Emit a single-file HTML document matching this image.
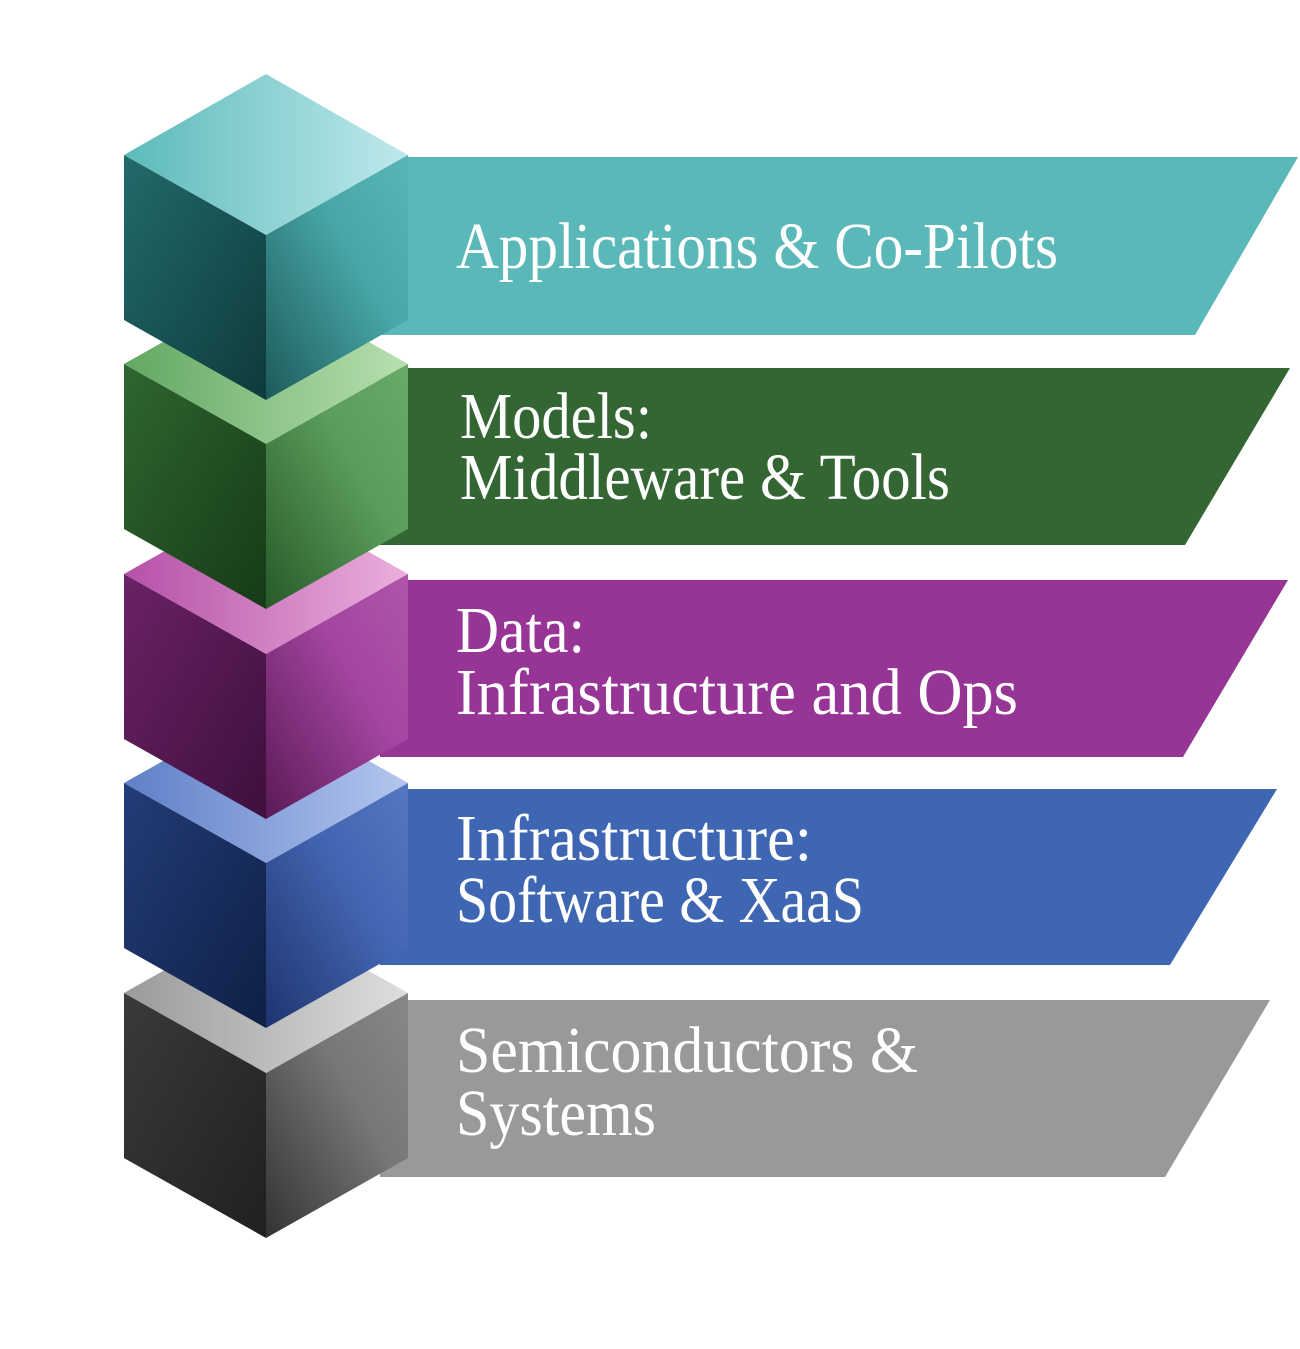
<!DOCTYPE html>
<html><head><meta charset="utf-8"><style>
html,body{margin:0;padding:0;background:#fff;}
svg{display:block}
text{font-family:"Liberation Serif",serif;fill:#fff;font-size:66px;}
</style></head><body>
<svg width="1300" height="1349" viewBox="0 0 1300 1349" xmlns="http://www.w3.org/2000/svg">
<polygon points="380,1000 1270,1000 1165,1177 380,1177" fill="#999999"/>
<polygon points="380,789 1277,789 1170,965 380,965" fill="#3f66b2"/>
<polygon points="380,580 1288,580 1183,757 380,757" fill="#963596"/>
<polygon points="380,368 1290,368 1185,545 380,545" fill="#336633"/>
<polygon points="380,157 1298,157 1195,335 380,335" fill="#5bb8b8"/>

<g>
<linearGradient id="g5t" x1="0" y1="0" x2="1" y2="0"><stop offset="0" stop-color="#9a9a9a"/><stop offset="1" stop-color="#dedede"/></linearGradient>
<linearGradient id="g5l" x1="0" y1="0" x2="1" y2="1"><stop offset="0" stop-color="#3a3a3a"/><stop offset="1" stop-color="#202020"/></linearGradient>
<linearGradient id="g5r" x1="0" y1="1" x2="1" y2="0"><stop offset="0" stop-color="#333"/><stop offset="0.6" stop-color="#777"/><stop offset="1" stop-color="#888"/></linearGradient>
<polygon points="266,913 408,993 266,1073 124,993" fill="url(#g5t)"/>
<polygon points="124,993 266,1073 266,1238 124,1158" fill="url(#g5l)"/>
<polygon points="266,1073 408,993 408,1158 266,1238" fill="url(#g5r)"/>
</g>
<g>
<linearGradient id="g4t" x1="0" y1="0" x2="1" y2="0"><stop offset="0" stop-color="#5e7fc8"/><stop offset="1" stop-color="#b4c6ee"/></linearGradient>
<linearGradient id="g4l" x1="0" y1="0" x2="1" y2="1"><stop offset="0" stop-color="#233d78"/><stop offset="1" stop-color="#0f1f45"/></linearGradient>
<linearGradient id="g4r" x1="0" y1="1" x2="1" y2="0"><stop offset="0" stop-color="#1e3470"/><stop offset="0.6" stop-color="#4466b2"/><stop offset="1" stop-color="#5576c0"/></linearGradient>
<polygon points="266,703 408,783 266,863 124,783" fill="url(#g4t)"/>
<polygon points="124,783 266,863 266,1028 124,948" fill="url(#g4l)"/>
<polygon points="266,863 408,783 408,948 266,1028" fill="url(#g4r)"/>
</g>
<g>
<linearGradient id="g3t" x1="0" y1="0" x2="1" y2="0"><stop offset="0" stop-color="#b650a8"/><stop offset="1" stop-color="#eab0dc"/></linearGradient>
<linearGradient id="g3l" x1="0" y1="0" x2="1" y2="1"><stop offset="0" stop-color="#6a2266"/><stop offset="1" stop-color="#3e0f3c"/></linearGradient>
<linearGradient id="g3r" x1="0" y1="1" x2="1" y2="0"><stop offset="0" stop-color="#5a1a56"/><stop offset="0.6" stop-color="#a445a0"/><stop offset="1" stop-color="#b055aa"/></linearGradient>
<polygon points="266,494 408,574 266,654 124,574" fill="url(#g3t)"/>
<polygon points="124,574 266,654 266,819 124,739" fill="url(#g3l)"/>
<polygon points="266,654 408,574 408,739 266,819" fill="url(#g3r)"/>
</g>
<g>
<linearGradient id="g2t" x1="0" y1="0" x2="1" y2="0"><stop offset="0" stop-color="#62a862"/><stop offset="1" stop-color="#b8e0b0"/></linearGradient>
<linearGradient id="g2l" x1="0" y1="0" x2="1" y2="1"><stop offset="0" stop-color="#2e6630"/><stop offset="1" stop-color="#163a18"/></linearGradient>
<linearGradient id="g2r" x1="0" y1="1" x2="1" y2="0"><stop offset="0" stop-color="#275a28"/><stop offset="0.6" stop-color="#5a9c5a"/><stop offset="1" stop-color="#6aaa68"/></linearGradient>
<polygon points="266,284 408,364 266,444 124,364" fill="url(#g2t)"/>
<polygon points="124,364 266,444 266,609 124,529" fill="url(#g2l)"/>
<polygon points="266,444 408,364 408,529 266,609" fill="url(#g2r)"/>
</g>
<g>
<linearGradient id="g1t" x1="0" y1="0" x2="1" y2="0"><stop offset="0" stop-color="#5cbaba"/><stop offset="1" stop-color="#bfe9ec"/></linearGradient>
<linearGradient id="g1l" x1="0" y1="0" x2="1" y2="1"><stop offset="0" stop-color="#236a6a"/><stop offset="1" stop-color="#0e3a3c"/></linearGradient>
<linearGradient id="g1r" x1="0" y1="1" x2="1" y2="0"><stop offset="0" stop-color="#1d5a5a"/><stop offset="0.6" stop-color="#48a6a6"/><stop offset="1" stop-color="#5ab6b6"/></linearGradient>
<polygon points="266,74 408,155 266,235 124,155" fill="url(#g1t)"/>
<polygon points="124,155 266,235 266,400 124,320" fill="url(#g1l)"/>
<polygon points="266,235 408,155 408,320 266,400" fill="url(#g1r)"/>
</g>

<text x="456" y="268" textLength="602" lengthAdjust="spacingAndGlyphs">Applications &amp; Co-Pilots</text>
<text x="460" y="438" textLength="192" lengthAdjust="spacingAndGlyphs">Models:</text>
<text x="460" y="499" textLength="490" lengthAdjust="spacingAndGlyphs">Middleware &amp; Tools</text>
<text x="456" y="652" textLength="129" lengthAdjust="spacingAndGlyphs">Data:</text>
<text x="456" y="714" textLength="562" lengthAdjust="spacingAndGlyphs">Infrastructure and Ops</text>
<text x="456" y="860" textLength="356" lengthAdjust="spacingAndGlyphs">Infrastructure:</text>
<text x="456" y="922" textLength="408" lengthAdjust="spacingAndGlyphs">Software &amp; XaaS</text>
<text x="456" y="1072" textLength="462" lengthAdjust="spacingAndGlyphs">Semiconductors &amp;</text>
<text x="456" y="1135" textLength="200" lengthAdjust="spacingAndGlyphs">Systems</text>
</svg>
</body></html>
